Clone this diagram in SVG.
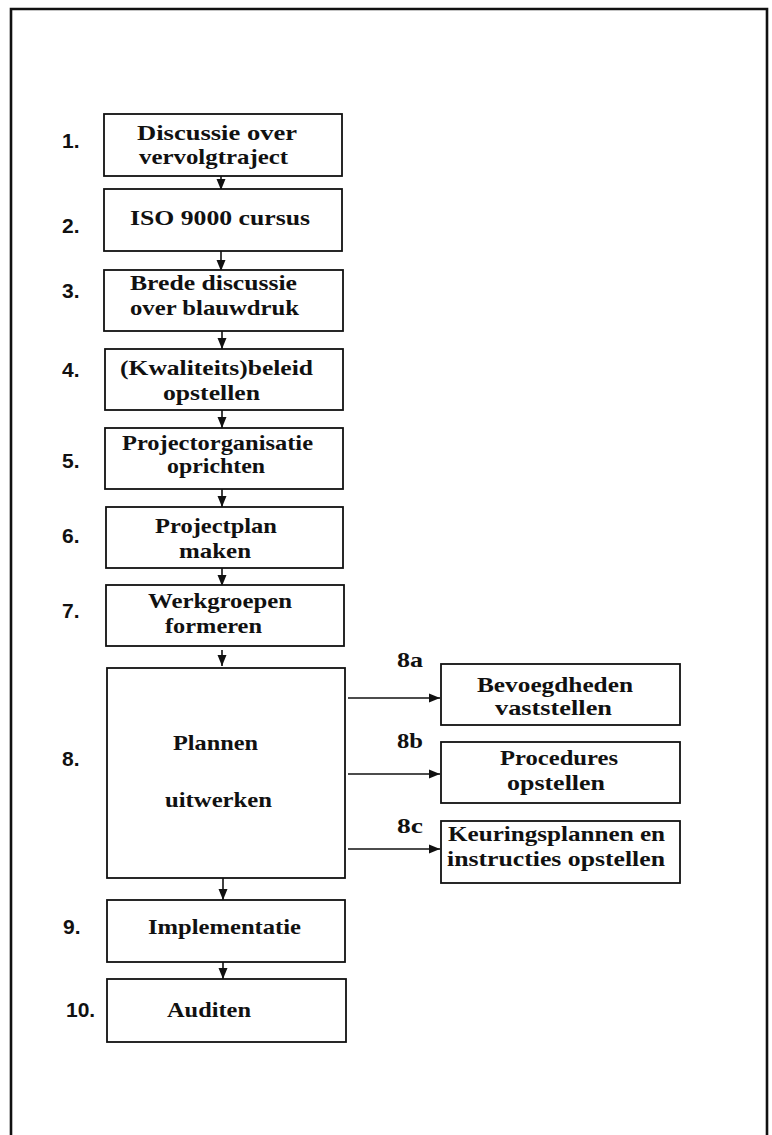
<svg xmlns="http://www.w3.org/2000/svg" width="772" height="1135" viewBox="0 0 772 1135">
<defs>
<style>
.box{fill:#fff;stroke:#111;stroke-width:1.8}
.t{font-family:"Liberation Serif","Times New Roman",serif;font-weight:bold;font-size:22px;fill:#111;text-anchor:middle}
.t2{font-family:"Liberation Serif","Times New Roman",serif;font-weight:bold;font-size:20px;fill:#111;text-anchor:middle}
.n{font-family:"Liberation Sans",Arial,sans-serif;font-weight:bold;font-size:21px;fill:#111}
.s{font-family:"Liberation Serif","Times New Roman",serif;font-weight:bold;font-size:21px;fill:#111}
.c{stroke:#111;stroke-width:1.6;fill:none}
</style>
<marker id="ah" viewBox="0 0 11 10" refX="11" refY="5" markerWidth="11" markerHeight="10" markerUnits="userSpaceOnUse" orient="auto">
<path d="M0,0.5 L11,5 L0,9.5 Z" fill="#111"/>
</marker>
</defs>
<rect width="772" height="1135" fill="#fff"/>
<path d="M11,1140 V9 H767 V1140" fill="none" stroke="#111" stroke-width="2.6"/>

<g id="connectors">
<line class="c" x1="221" y1="176" x2="221" y2="190" marker-end="url(#ah)"/>
<line class="c" x1="221" y1="251" x2="221" y2="271" marker-end="url(#ah)"/>
<line class="c" x1="222" y1="331" x2="222" y2="349" marker-end="url(#ah)"/>
<line class="c" x1="222" y1="410" x2="222" y2="428" marker-end="url(#ah)"/>
<line class="c" x1="222" y1="489" x2="222" y2="507" marker-end="url(#ah)"/>
<line class="c" x1="222" y1="568" x2="222" y2="586" marker-end="url(#ah)"/>
<line class="c" x1="222" y1="650" x2="222" y2="666" marker-end="url(#ah)"/>
<line class="c" x1="223" y1="878" x2="223" y2="900" marker-end="url(#ah)"/>
<line class="c" x1="223" y1="962" x2="223" y2="979" marker-end="url(#ah)"/>
<line class="c" x1="348" y1="698" x2="440" y2="698" marker-end="url(#ah)"/>
<line class="c" x1="348" y1="774" x2="440" y2="774" marker-end="url(#ah)"/>
<line class="c" x1="348" y1="849" x2="440" y2="849" marker-end="url(#ah)"/>
</g>

<g id="n1">
<rect class="box" x="104" y="114" width="238" height="62"/>
<text class="n" x="62" y="148">1.</text>
<text class="t" x="217" y="140" textLength="160" lengthAdjust="spacingAndGlyphs">Discussie over</text>
<text class="t" x="213.5" y="164" textLength="149" lengthAdjust="spacingAndGlyphs">vervolgtraject</text>
</g>
<g id="n2">
<rect class="box" x="104" y="189" width="238" height="62"/>
<text class="n" x="62" y="233">2.</text>
<text class="t" x="220" y="225" textLength="180" lengthAdjust="spacingAndGlyphs">ISO 9000 cursus</text>
</g>
<g id="n3">
<rect class="box" x="104" y="270" width="239" height="61"/>
<text class="n" x="62" y="298">3.</text>
<text class="t" x="213.5" y="290" textLength="167" lengthAdjust="spacingAndGlyphs">Brede discussie</text>
<text class="t" x="214.5" y="315" textLength="169" lengthAdjust="spacingAndGlyphs">over blauwdruk</text>
</g>
<g id="n4">
<rect class="box" x="105" y="349" width="238" height="61"/>
<text class="n" x="62" y="377">4.</text>
<text class="t" x="216.5" y="375" textLength="193" lengthAdjust="spacingAndGlyphs">(Kwaliteits)beleid</text>
<text class="t" x="211.5" y="400" textLength="97" lengthAdjust="spacingAndGlyphs">opstellen</text>
</g>
<g id="n5">
<rect class="box" x="105" y="428" width="238" height="61"/>
<text class="n" x="62" y="468">5.</text>
<text class="t" x="217.5" y="450" textLength="191" lengthAdjust="spacingAndGlyphs">Projectorganisatie</text>
<text class="t" x="216" y="473" textLength="98" lengthAdjust="spacingAndGlyphs">oprichten</text>
</g>
<g id="n6">
<rect class="box" x="106" y="507" width="237" height="61"/>
<text class="n" x="62" y="543">6.</text>
<text class="t" x="216" y="533" textLength="122" lengthAdjust="spacingAndGlyphs">Projectplan</text>
<text class="t" x="215" y="558" textLength="72" lengthAdjust="spacingAndGlyphs">maken</text>
</g>
<g id="n7">
<rect class="box" x="106" y="585" width="238" height="61"/>
<text class="n" x="62" y="618">7.</text>
<text class="t" x="220" y="608" textLength="144" lengthAdjust="spacingAndGlyphs">Werkgroepen</text>
<text class="t" x="213.5" y="633" textLength="97" lengthAdjust="spacingAndGlyphs">formeren</text>
</g>
<g id="n8">
<rect class="box" x="107" y="668" width="238" height="210"/>
<text class="n" x="62" y="766">8.</text>
<text class="t" x="215.5" y="750" textLength="85" lengthAdjust="spacingAndGlyphs">Plannen</text>
<text class="t" x="218.5" y="807" textLength="107" lengthAdjust="spacingAndGlyphs">uitwerken</text>
</g>
<g id="n8a">
<rect class="box" x="441" y="664" width="239" height="61"/>
<text class="s" x="397" y="667" textLength="26" lengthAdjust="spacingAndGlyphs">8a</text>
<text class="t" x="555" y="692" textLength="156" lengthAdjust="spacingAndGlyphs">Bevoegdheden</text>
<text class="t" x="553.5" y="715" textLength="117" lengthAdjust="spacingAndGlyphs">vaststellen</text>
</g>
<g id="n8b">
<rect class="box" x="441" y="742" width="239" height="61"/>
<text class="s" x="397" y="748" textLength="26" lengthAdjust="spacingAndGlyphs">8b</text>
<text class="t" x="559" y="765" textLength="118" lengthAdjust="spacingAndGlyphs">Procedures</text>
<text class="t" x="556" y="790" textLength="98" lengthAdjust="spacingAndGlyphs">opstellen</text>
</g>
<g id="n8c">
<rect class="box" x="441" y="821" width="239" height="62"/>
<text class="s" x="397" y="833" textLength="26" lengthAdjust="spacingAndGlyphs">8c</text>
<text class="t2" x="556.5" y="841" textLength="217" lengthAdjust="spacingAndGlyphs">Keuringsplannen en</text>
<text class="t2" x="556" y="866" textLength="218" lengthAdjust="spacingAndGlyphs">instructies opstellen</text>
</g>
<g id="n9">
<rect class="box" x="107" y="900" width="238" height="62"/>
<text class="n" x="63" y="934">9.</text>
<text class="t" x="224.5" y="934" textLength="153" lengthAdjust="spacingAndGlyphs">Implementatie</text>
</g>
<g id="n10">
<rect class="box" x="107" y="979" width="239" height="63"/>
<text class="n" x="66" y="1017">10.</text>
<text class="t" x="209" y="1017" textLength="84" lengthAdjust="spacingAndGlyphs">Auditen</text>
</g>
</svg>
